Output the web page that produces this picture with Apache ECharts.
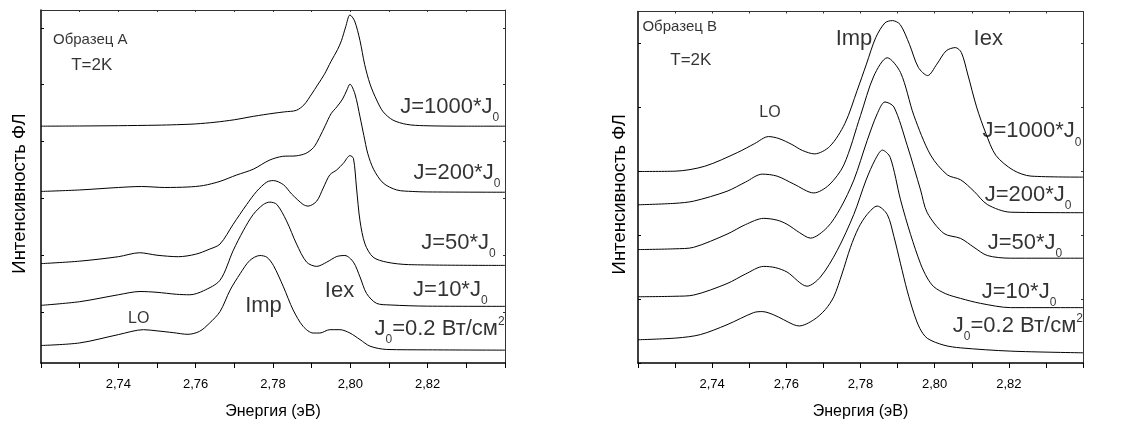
<!DOCTYPE html>
<html><head><meta charset="utf-8">
<script src="https://cdn.jsdelivr.net/npm/echarts@6/dist/echarts.min.js"></script>
<style>html,body{margin:0;padding:0;background:#fff}#c{width:1127px;height:425px}</style>
</head><body><div id="c"></div>
<script>
// ---- axis data ----
const energyMin = 2.72, energyMax = 2.84;
const xTicks = [2.72,2.73,2.74,2.75,2.76,2.77,2.78,2.79,2.80,2.81,2.82,2.83,2.84];
const xLabelValues = [2.74,2.76,2.78,2.80,2.82];
const xLabelTexts = ['2,74','2,76','2,78','2,80','2,82'];
const leftYMax = 357, rightYMax = 355.5;
const leftYTicks = [51.3,108.8,166.4,223.9,281.5,339];
const rightYTicks = [0,64.6,129.2,193.8,258.4,323];

// ---- Sample A spectra (energy eV, intensity a.u., offset) ----
const A_J1000 = [[2.72,239.5],[2.73,239.7],[2.74,240],[2.75,240.5],[2.755,241],[2.76,241.8],[2.765,243.5],[2.77,246],[2.775,249.5],[2.78,252.5],[2.783,254],[2.786,255.5],[2.788,261],[2.79,272],[2.7915,281],[2.7933,292],[2.795,305],[2.7967,317],[2.7977,326],[2.7988,340],[2.7999,352],[2.8011,346],[2.8025,326],[2.8037,302],[2.8051,282],[2.8068,266],[2.8085,254],[2.811,245.7],[2.8146,241.3],[2.819,240],[2.83,239.5],[2.84,239.5]];
const A_J200 = [[2.72,173.5],[2.73,175],[2.74,177.5],[2.746,178.5],[2.752,177.5],[2.758,178],[2.762,179.5],[2.7663,183.7],[2.7705,190],[2.7749,196],[2.779,205],[2.7825,209],[2.786,209.5],[2.7885,212],[2.7905,218],[2.792,228],[2.7935,240],[2.795,252],[2.7965,259],[2.798,267],[2.7991,276],[2.7999,282],[2.8012,272],[2.8025,249],[2.8035,230],[2.8045,212],[2.806,196],[2.8085,182],[2.812,175],[2.816,173.5],[2.82,173],[2.84,172.7]];
const A_J50 = [[2.72,100.5],[2.73,103],[2.74,107.5],[2.7455,111.5],[2.75,109],[2.7555,107.5],[2.76,110],[2.7635,115],[2.7663,120.3],[2.7697,140.3],[2.7732,160.3],[2.7758,173.7],[2.7784,183],[2.7801,184.5],[2.7827,180.3],[2.7848,171],[2.7878,160.3],[2.7891,158.7],[2.7913,163.7],[2.793,177],[2.7947,190.3],[2.7965,195.3],[2.7982,202],[2.7999,209.7],[2.8008,207],[2.8016,177],[2.8025,143.7],[2.8038,120.3],[2.8059,107],[2.8094,102],[2.815,99.5],[2.84,98.7]];
const A_J10 = [[2.72,58.3],[2.73,62],[2.74,69],[2.7456,72.3],[2.75,71.5],[2.755,69.5],[2.7585,69],[2.762,73],[2.7663,83.7],[2.7697,113.7],[2.7723,133.7],[2.7749,150.3],[2.7775,160.3],[2.7792,162.7],[2.781,160.3],[2.7835,143.7],[2.7861,120.3],[2.7887,102],[2.7913,97.7],[2.7939,102],[2.7965,107.7],[2.7986,108.7],[2.8008,102],[2.8025,87],[2.8042,70.3],[2.8068,60.3],[2.8103,58.7],[2.82,57.5],[2.84,57.3]];
const A_J0 = [[2.72,17.7],[2.73,20.3],[2.74,28.7],[2.7465,33.7],[2.75,32.5],[2.7542,30.7],[2.758,29],[2.761,32],[2.7635,40],[2.7663,52],[2.7689,73.7],[2.7715,90.3],[2.774,103.7],[2.7766,108.7],[2.7784,107],[2.7801,98.7],[2.7827,77],[2.7852,53.7],[2.7878,37],[2.7904,30.3],[2.7921,30.3],[2.7947,33.7],[2.7973,33.7],[2.7999,30.3],[2.8025,23.7],[2.8051,17],[2.8094,13.7],[2.82,13.3],[2.84,13]];

// ---- Sample B spectra ----
const B_J1000 = [[2.72,193.7],[2.73,194],[2.738,199],[2.7469,213],[2.7515,222],[2.7552,229],[2.758,227],[2.7615,221],[2.7643,215],[2.7676,211.5],[2.7717,219],[2.7758,242.3],[2.7791,275.7],[2.7816,302.3],[2.7841,329],[2.7866,344],[2.7886,346.3],[2.7907,342.3],[2.7932,322.3],[2.7956,299],[2.7981,290.7],[2.8006,302.3],[2.8031,315.7],[2.8056,319],[2.8072,314],[2.8089,292.3],[2.8113,259],[2.8138,232.3],[2.8165,210],[2.8212,195],[2.826,189],[2.84,188]];
const B_J200 = [[2.72,160],[2.73,161.5],[2.735,163.7],[2.744,173.7],[2.749,183],[2.7535,191],[2.7575,189],[2.762,181],[2.7674,172],[2.7715,180],[2.7755,200.3],[2.78,250.3],[2.7836,290.3],[2.7872,308.7],[2.7908,293.7],[2.7944,250.3],[2.7989,210.3],[2.8034,190.3],[2.807,185.3],[2.8106,173.7],[2.8142,160.3],[2.8205,152.5],[2.84,152]];
const B_J50 = [[2.72,114.7],[2.73,115.5],[2.735,117],[2.744,130.3],[2.749,140],[2.7539,146.3],[2.7575,144.5],[2.7602,140.3],[2.7635,132],[2.7665,126.3],[2.771,137],[2.7745,156],[2.7782,185],[2.7818,225],[2.7845,252],[2.7866,264],[2.789,259],[2.7926,220],[2.7962,175],[2.798,152],[2.8025,131],[2.807,126],[2.8106,117],[2.8142,108.7],[2.8205,106],[2.84,106]];
const B_J10 = [[2.72,67],[2.73,67.5],[2.735,68.7],[2.744,80.3],[2.749,90],[2.7539,97.7],[2.757,96.5],[2.7602,92],[2.7656,77.7],[2.7692,87],[2.7737,113.7],[2.7782,150.3],[2.7815,185],[2.784,206],[2.7859,215.3],[2.788,208],[2.7908,165],[2.7935,130],[2.7962,100.3],[2.798,86],[2.7998,77],[2.803,70],[2.807,65.3],[2.8124,60.3],[2.8205,56],[2.84,56]];
const B_J0 = [[2.72,23.5],[2.7305,25.3],[2.7368,28.7],[2.744,38.7],[2.7512,51],[2.7535,52],[2.7566,48.7],[2.762,38.7],[2.7635,37.5],[2.7674,43.7],[2.7705,54],[2.7728,67],[2.775,90],[2.7773,117],[2.7795,137],[2.7818,150.3],[2.7845,158.7],[2.7872,150.3],[2.789,128],[2.7908,100.3],[2.7926,73],[2.7944,50.3],[2.796,35],[2.798,25],[2.8025,18],[2.807,15.3],[2.8205,12],[2.84,10.3]];

// ---- text annotations (anchored in data coordinates) ----
const A_notes = [
  {t:'Образец A', at:[2.7231,327], s:'small', align:'left'},
  {t:'T=2K', at:[2.7278,301], s:'mid', align:'left'},
  {t:'Imp', at:[2.7728,58], s:'big', align:'left'},
  {t:'Iex', at:[2.7934,72.5], s:'big', align:'left'},
  {t:'LO', at:[2.7425,45], s:'lo', align:'left'},
  {t:'{j|J=1000*J}{sub|0}', at:[2.8385,266.5], s:'rich', align:'right'},
  {t:'{j|J=200*J}{sub|0}', at:[2.8388,199.5], s:'rich', align:'right'},
  {t:'{j|J=50*J}{sub|0}', at:[2.8376,128.7], s:'rich', align:'right'},
  {t:'{j|J=10*J}{sub|0}', at:[2.8355,81], s:'rich', align:'right'},
  {t:'{j|J}{sub|0}{j|=0.2 Вт/см}{sup|2}', at:[2.8399,42], s:'rich', align:'right'}
];
const B_notes = [
  {t:'Образец B', at:[2.7212,340], s:'small', align:'left'},
  {t:'T=2K', at:[2.7287,306], s:'mid', align:'left'},
  {t:'Imp', at:[2.7733,327.7], s:'big', align:'left'},
  {t:'Iex', at:[2.8105,327.8], s:'big', align:'left'},
  {t:'LO', at:[2.7527,253], s:'lo', align:'left'},
  {t:'{j|J=1000*J}{sub|0}', at:[2.8129,241.5], s:'rich', align:'left'},
  {t:'{j|J=200*J}{sub|0}', at:[2.8135,177], s:'rich', align:'left'},
  {t:'{j|J=50*J}{sub|0}', at:[2.8143,128.5], s:'rich', align:'left'},
  {t:'{j|J=10*J}{sub|0}', at:[2.8127,79], s:'rich', align:'left'},
  {t:'{j|J}{sub|0}{j|=0.2 Вт/см}{sup|2}', at:[2.8049,44.8], s:'rich', align:'left'}
];

const FONT = '"Liberation Sans", Arial, Helvetica, sans-serif';
const sizes = {small:15, mid:17, big:22, lo:16, rich:22};
const rich = {
  j: {fontSize:22, fontFamily:FONT, color:'#000', lineHeight:24, padding:[8,0,0,0], verticalAlign:'top'},
  sub: {fontSize:12, fontFamily:FONT, color:'#000', lineHeight:12, padding:[24,0,0,0], verticalAlign:'top'},
  sup: {fontSize:12, fontFamily:FONT, color:'#000', lineHeight:12, padding:[6,0,0,0], verticalAlign:'top'}
};

function xLabelFmt(v){
  const i = xLabelValues.findIndex(t => Math.abs(t - v) < 1e-6);
  return i >= 0 ? xLabelTexts[i] : '';
}
function makeX(grid, bottom){
  if (bottom) return {
    gridIndex:grid, type:'value', min:energyMin, max:energyMax, position:'bottom',
    axisLine:{show:true, onZero:false, lineStyle:{color:'#000', width:1.5}},
    axisTick:{show:true, customValues:xTicks, inside:false, length:5, lineStyle:{color:'#000', width:1}},
    axisLabel:{show:true, customValues:xLabelValues, formatter:xLabelFmt, color:'#000', fontSize:13, fontFamily:FONT, margin:15},
    splitLine:{show:false},
    name:'Энергия (эВ)', nameLocation:'middle', nameGap:41,
    nameTextStyle:{fontSize:16, color:'#000', fontFamily:FONT}
  };
  return {
    gridIndex:grid, type:'value', min:energyMin, max:energyMax, position:'top',
    axisLine:{show:true, onZero:false, lineStyle:{color:'#333', width:1}},
    axisTick:{show:true, customValues:xTicks, inside:true, length:2, lineStyle:{color:'#333'}},
    axisLabel:{show:false}, splitLine:{show:false}
  };
}
function makeY(grid, left, ymax, ticks, gap){
  if (left) return {
    gridIndex:grid, type:'value', min:0, max:ymax, position:'left',
    axisLine:{show:true, onZero:false, lineStyle:{color:'#000', width:1.5}},
    axisTick:{show:true, customValues:ticks, inside:true, length:3, lineStyle:{color:'#000'}},
    axisLabel:{show:false}, splitLine:{show:false},
    name:'Интенсивность ФЛ', nameLocation:'middle', nameRotate:90, nameGap:gap,
    nameTextStyle:{fontSize:18.5, color:'#000', fontFamily:FONT, padding:[0,14,0,0]}
  };
  return {
    gridIndex:grid, type:'value', min:0, max:ymax, position:'right',
    axisLine:{show:true, onZero:false, lineStyle:{color:'#333', width:1}},
    axisTick:{show:true, customValues:ticks, inside:true, length:2, lineStyle:{color:'#333'}},
    axisLabel:{show:false}, splitLine:{show:false}
  };
}
function curve(data, xi, yi){
  return {type:'line', data:data, xAxisIndex:xi, yAxisIndex:yi, showSymbol:false, symbol:'none',
    smooth:0.3, lineStyle:{color:'#000', width:1}, silent:true, z:3};
}
function notes(list, xi, yi){
  return {type:'scatter', xAxisIndex:xi, yAxisIndex:yi, symbolSize:0, silent:true, z:5,
    data: list.map(n => ({value:n.at, label:{
      show:true, position:[0,0], align:n.align, verticalAlign:'middle',
      formatter:n.t, color:'#000', fontFamily:FONT, fontSize:sizes[n.s],
      rich: n.s === 'rich' ? rich : undefined
    }}))};
}

const chart = echarts.init(document.getElementById('c'), null, {renderer:'canvas'});
chart.setOption({
  animation:false,
  backgroundColor:'#fff',
  grid:[
    {left:41, top:10, width:464, height:357, containLabel:false},
    {left:638, top:11.5, width:445, height:355.5, containLabel:false}
  ],
  xAxis:[makeX(0,true), makeX(0,false), makeX(1,true), makeX(1,false)],
  yAxis:[makeY(0,true,leftYMax,leftYTicks,12), makeY(0,false,leftYMax,leftYTicks),
         makeY(1,true,rightYMax,rightYTicks,9), makeY(1,false,rightYMax,rightYTicks)],
  series:[
    curve(A_J1000,0,0), curve(A_J200,0,0), curve(A_J50,0,0), curve(A_J10,0,0), curve(A_J0,0,0),
    curve(B_J1000,2,2), curve(B_J200,2,2), curve(B_J50,2,2), curve(B_J10,2,2), curve(B_J0,2,2),
    notes(A_notes,0,0), notes(B_notes,2,2)
  ]
});
</script></body></html>
